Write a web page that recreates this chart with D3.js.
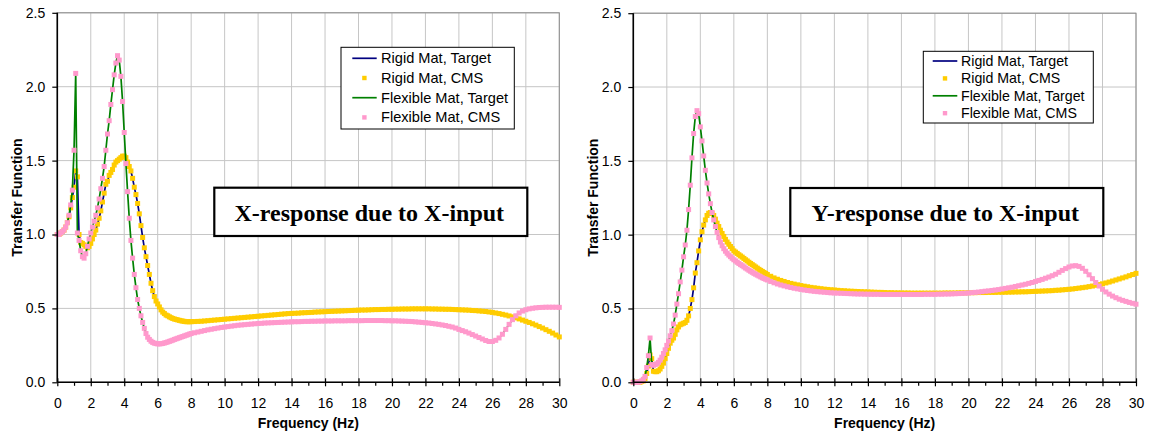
<!DOCTYPE html>
<html><head><meta charset="utf-8">
<script src="https://cdn.jsdelivr.net/npm/d3@7"></script>
<style>body{margin:0;background:#fff}svg{display:block}</style>
</head><body>
<svg id="chart" width="1151" height="435"></svg>
<script>
// ---------- categories (frequency grid, Hz): 0.1 Hz steps to 7.9, then 0.2 Hz steps to 30 ----------
const freqFine = d3.range(0, 80).map(i => i / 10);
const freqCoarse = d3.range(40, 151).map(i => i / 5);
const frequency = freqFine.concat(freqCoarse);
const xTickValues = d3.range(0, 31, 2);
const yTickValues = [0, 0.5, 1.0, 1.5, 2.0, 2.5];
const seriesNames = ["Rigid Mat, Target", "Rigid Mat, CMS", "Flexible Mat, Target", "Flexible Mat, CMS"];
const panelTitles = ["X-response due to X-input", "Y-response due to X-input"];

// ---------- X-response due to X-input ----------
const xRigidTarget = [
  1.00,1.00,1.01,1.02,1.03,1.05,1.08,1.12,1.18,1.25,
  1.32,1.43,1.39,1.00,0.945,0.94,0.93,0.92,0.91,0.92,
  0.94,0.97,1.00,1.03,1.07,1.11,1.16,1.22,1.28,1.34,
  1.36,1.40,1.42,1.44,1.47,1.49,1.50,1.51,1.52,1.53,
  1.53,1.52,1.49,1.46,1.43,1.38,1.32,1.27,1.21,1.14,
  1.06,0.98,0.91,0.85,0.79,0.73,0.67,0.62,0.58,0.55,
  0.53,0.51,0.49,0.475,0.465,0.455,0.45,0.443,0.437,0.432,
  0.428,0.425,0.422,0.419,0.416,0.414,0.412,0.41,0.41,0.41,
  0.410,0.411,0.412,0.413,0.415,0.417,0.419,0.421,0.423,0.425,
  0.427,0.429,0.431,0.433,0.435,0.437,0.439,0.441,0.443,0.445,
  0.447,0.449,0.451,0.453,0.455,0.457,0.459,0.461,0.463,0.465,
  0.466,0.467,0.468,0.470,0.471,0.472,0.473,0.475,0.476,0.477,
  0.478,0.479,0.480,0.481,0.482,0.483,0.484,0.485,0.486,0.487,
  0.488,0.489,0.489,0.490,0.491,0.492,0.492,0.493,0.493,0.494,
  0.494,0.495,0.495,0.496,0.496,0.496,0.497,0.497,0.497,0.497,
  0.497,0.497,0.496,0.496,0.495,0.495,0.494,0.494,0.493,0.492,
  0.491,0.490,0.489,0.488,0.486,0.485,0.483,0.481,0.479,0.476,
  0.473,0.469,0.465,0.460,0.455,0.449,0.443,0.436,0.429,0.421,
  0.413,0.405,0.396,0.387,0.377,0.367,0.356,0.345,0.333,0.320,
  0.307
];
const xRigidCMS = xRigidTarget; // CMS points sit on the target curve in the picture
const xFlexTarget = [
  1.00,1.00,1.01,1.02,1.03,1.05,1.08,1.13,1.20,1.30,
  1.57,2.09,1.01,0.96,0.89,0.85,0.84,0.87,0.92,0.97,
  1.01,1.05,1.09,1.13,1.18,1.24,1.31,1.38,1.46,1.57,
  1.68,1.77,1.88,1.98,2.08,2.16,2.21,2.18,2.07,1.90,
  1.69,1.48,1.29,1.11,0.96,0.84,0.73,0.64,0.56,0.50,
  0.45,0.405,0.365,0.33,0.305,0.29,0.278,0.27,0.265,0.262,
  0.26,0.26,0.261,0.263,0.266,0.269,0.273,0.277,0.281,0.285,
  0.29,0.294,0.298,0.302,0.306,0.31,0.314,0.318,0.322,0.326,
  0.33,0.335,0.34,0.345,0.35,0.355,0.359,0.363,0.367,0.371,
  0.374,0.377,0.38,0.383,0.386,0.388,0.39,0.392,0.394,0.396,
  0.398,0.399,0.401,0.402,0.403,0.404,0.405,0.406,0.407,0.408,
  0.409,0.41,0.41,0.411,0.412,0.412,0.413,0.413,0.414,0.414,
  0.415,0.415,0.415,0.416,0.416,0.416,0.416,0.417,0.417,0.417,
  0.417,0.417,0.418,0.418,0.418,0.418,0.418,0.418,0.417,0.417,
  0.416,0.416,0.415,0.414,0.413,0.412,0.411,0.409,0.407,0.405,
  0.403,0.401,0.398,0.395,0.392,0.388,0.384,0.379,0.374,0.367,
  0.358,0.350,0.342,0.333,0.323,0.313,0.303,0.293,0.283,0.276,
  0.276,0.284,0.300,0.325,0.358,0.392,0.424,0.450,0.469,0.482,
  0.491,0.497,0.501,0.504,0.506,0.507,0.508,0.508,0.508,0.508,
  0.507
];
const xFlexCMS = xFlexTarget;

// ---------- Y-response due to X-input ----------
const yRigidTarget = [
  0.00,0.00,0.00,0.00,0.00,0.005,0.01,0.025,0.06,0.11,
  0.185,0.16,0.075,0.072,0.072,0.078,0.09,0.108,0.13,0.16,
  0.195,0.23,0.265,0.285,0.30,0.325,0.355,0.375,0.39,0.395,
  0.40,0.405,0.42,0.45,0.50,0.56,0.64,0.74,0.81,0.89,
  0.965,1.02,1.065,1.10,1.13,1.145,1.15,1.145,1.13,1.105,
  1.078,1.055,1.03,1.008,0.988,0.968,0.95,0.935,0.92,0.905,
  0.89,0.882,0.873,0.864,0.856,0.848,0.839,0.83,0.822,0.813,
  0.805,0.797,0.789,0.781,0.773,0.765,0.758,0.751,0.744,0.737,
  0.73,0.718,0.707,0.698,0.69,0.683,0.676,0.67,0.665,0.66,
  0.655,0.651,0.647,0.643,0.64,0.637,0.634,0.631,0.629,0.627,
  0.625,0.623,0.621,0.62,0.618,0.617,0.616,0.615,0.614,0.613,
  0.612,0.611,0.61,0.609,0.609,0.608,0.607,0.607,0.606,0.606,
  0.605,0.605,0.605,0.604,0.604,0.604,0.604,0.604,0.604,0.604,
  0.604,0.604,0.604,0.605,0.605,0.605,0.605,0.606,0.606,0.606,
  0.607,0.607,0.607,0.608,0.608,0.608,0.609,0.609,0.609,0.61,
  0.61,0.61,0.611,0.611,0.612,0.612,0.613,0.613,0.614,0.615,
  0.616,0.617,0.618,0.619,0.62,0.621,0.623,0.624,0.626,0.628,
  0.63,0.632,0.635,0.638,0.641,0.644,0.648,0.652,0.657,0.662,
  0.667,0.673,0.679,0.686,0.693,0.70,0.707,0.714,0.722,0.73,
  0.738
];
const yRigidCMS = yRigidTarget;
const yFlexTarget = [
  0.00,0.00,0.00,0.00,0.005,0.01,0.02,0.04,0.10,0.18,
  0.30,0.12,0.115,0.12,0.125,0.135,0.15,0.17,0.195,0.22,
  0.25,0.28,0.315,0.35,0.395,0.455,0.53,0.60,0.68,0.76,
  0.85,0.93,1.03,1.17,1.335,1.52,1.685,1.80,1.84,1.82,
  1.73,1.635,1.533,1.436,1.35,1.276,1.21,1.15,1.10,1.055,
  1.015,0.98,0.95,0.925,0.905,0.888,0.874,0.862,0.851,0.84,
  0.83,0.822,0.813,0.805,0.797,0.79,0.782,0.774,0.767,0.759,
  0.752,0.745,0.738,0.732,0.726,0.72,0.714,0.708,0.703,0.698,
  0.693,0.683,0.674,0.666,0.659,0.653,0.647,0.642,0.637,0.633,
  0.629,0.625,0.622,0.619,0.616,0.614,0.612,0.61,0.608,0.606,
  0.605,0.604,0.603,0.602,0.601,0.6,0.599,0.598,0.598,0.597,
  0.597,0.596,0.596,0.596,0.595,0.595,0.595,0.595,0.595,0.595,
  0.595,0.595,0.595,0.595,0.595,0.595,0.595,0.596,0.596,0.596,
  0.596,0.597,0.597,0.598,0.598,0.599,0.6,0.601,0.602,0.603,
  0.605,0.607,0.609,0.611,0.614,0.617,0.619,0.622,0.625,0.628,
  0.632,0.636,0.64,0.644,0.649,0.654,0.659,0.664,0.67,0.676,
  0.683,0.69,0.697,0.705,0.713,0.722,0.732,0.745,0.758,0.77,
  0.781,0.788,0.79,0.785,0.772,0.752,0.728,0.702,0.676,0.652,
  0.63,0.612,0.597,0.584,0.573,0.563,0.555,0.548,0.541,0.535,
  0.529
];
const yFlexCMS = yFlexTarget;

// ---------- layout / styling ----------
const colors = { rigidLine: "#000080", rigidMark: "#FFCC00", flexLine: "#008000", flexMark: "#FF99CC" };
const sansFont = "'Liberation Sans', Arial, sans-serif";
const serifFont = "'Liberation Serif', 'Times New Roman', serif";

const panels = [
  { left: 57.3, right: 559.3, top: 12.8, bottom: 382.3, yTitleX: 17,
    series: [xRigidTarget, xRigidCMS, xFlexTarget, xFlexCMS], title: panelTitles[0],
    legend: { x: 341, y: 47.3, w: 173.3, h: 81.7, row0: 58.3, dy: 19.7, l1: 352.3, l2: 376.7, mx: 364.4, tx: 381, fs: 14.6 },
    note: { x: 214.3, y: 187.7, w: 313, h: 48.3 } },
  { left: 633.3, right: 1136, top: 13.2, bottom: 382.3, yTitleX: 593,
    series: [yRigidTarget, yRigidCMS, yFlexTarget, yFlexCMS], title: panelTitles[1],
    legend: { x: 923.3, y: 51.3, w: 170, h: 71.7, row0: 61, dy: 17.4, l1: 932.7, l2: 957.3, mx: 945, tx: 961, fs: 14.2 },
    note: { x: 790.3, y: 188, w: 313, h: 48 } }
];

const svg = d3.select("#chart");
const markSize = 5;

panels.forEach(p => {
  const g = svg.append("g");
  const x = d3.scaleLinear().domain([0, 30]).range([p.left, p.right]);
  const y = d3.scaleLinear().domain([0, 2.5]).range([p.bottom, p.top]);

  // gridlines
  g.append("g").selectAll("line.v").data(xTickValues.filter(d => d > 0)).join("line")
    .attr("x1", d => x(d)).attr("x2", d => x(d)).attr("y1", p.top).attr("y2", p.bottom)
    .attr("stroke", "#c6c6c6").attr("stroke-width", 1);
  g.append("g").selectAll("line.h").data(yTickValues.filter(d => d > 0)).join("line")
    .attr("x1", p.left).attr("x2", p.right).attr("y1", d => y(d)).attr("y2", d => y(d))
    .attr("stroke", "#c6c6c6").attr("stroke-width", 1);
  // plot border (top/right gray)
  g.append("rect").attr("x", p.left).attr("y", p.top).attr("width", p.right - p.left).attr("height", p.bottom - p.top)
    .attr("fill", "none").attr("stroke", "#8c8c8c").attr("stroke-width", 1);

  // series
  const pts = s => frequency.map((f, i) => [f, s[i]]);
  const line = d3.line().x(d => x(d[0])).y(d => y(d[1]));
  const drawLine = (s, c) => g.append("path").datum(pts(s)).attr("d", line)
    .attr("fill", "none").attr("stroke", c).attr("stroke-width", 1.7).attr("stroke-linejoin", "round");
  const drawMarks = (s, c) => g.append("g").selectAll("rect").data(pts(s)).join("rect")
    .attr("x", d => x(d[0]) - markSize / 2).attr("y", d => y(d[1]) - markSize / 2)
    .attr("width", markSize).attr("height", markSize).attr("fill", c);
  drawLine(p.series[0], colors.rigidLine);
  drawMarks(p.series[1], colors.rigidMark);
  drawLine(p.series[2], colors.flexLine);
  drawMarks(p.series[3], colors.flexMark);

  // axes
  const yAxis = d3.axisLeft(y).tickValues(yTickValues).tickFormat(d3.format(".1f")).tickSize(5).tickPadding(7);
  const ya = g.append("g").attr("transform", `translate(${p.left},0)`).call(yAxis);
  const xAxis = d3.axisBottom(x).tickValues(xTickValues).tickFormat(d3.format("d")).tickSize(4).tickPadding(12);
  const xa = g.append("g").attr("transform", `translate(0,${p.bottom})`).call(xAxis);
  xa.selectAll(".tick line").attr("y1", -4);
  const xMinor = d3.axisBottom(x).tickValues(d3.range(1, 30, 2)).tickFormat("").tickSize(3.5);
  const xm = g.append("g").attr("transform", `translate(0,${p.bottom})`).call(xMinor);
  xm.select(".domain").remove();
  [ya, xa, xm].forEach(a => {
    a.selectAll("line").attr("stroke", "#000").attr("stroke-width", 1.2);
    a.select(".domain").attr("stroke", "#000").attr("stroke-width", 1.6);
    a.selectAll("text").attr("font-family", sansFont).attr("font-size", 14).attr("fill", "#000");
  });
  ya.select(".domain").attr("d", `M0,${p.top}V${p.bottom}`);
  xa.select(".domain").attr("d", `M${p.left},0H${p.right}`);

  // axis titles
  g.append("text").attr("transform", `translate(${p.yTitleX},${(p.top + p.bottom) / 2}) rotate(-90)`)
    .attr("text-anchor", "middle").attr("dominant-baseline", "central")
    .attr("font-family", sansFont).attr("font-weight", "bold").attr("font-size", 14).text("Transfer Function");
  g.append("text").attr("x", (p.left + p.right) / 2).attr("y", 422.7)
    .attr("text-anchor", "middle").attr("dominant-baseline", "central")
    .attr("font-family", sansFont).attr("font-weight", "bold").attr("font-size", 14).text("Frequency (Hz)");

  // legend
  const L = p.legend;
  const lg = g.append("g");
  lg.append("rect").attr("x", L.x).attr("y", L.y).attr("width", L.w).attr("height", L.h)
    .attr("fill", "#fff").attr("stroke", "#000").attr("stroke-width", 1);
  seriesNames.forEach((name, i) => {
    const cy = L.row0 + i * L.dy;
    if (i % 2 === 0) {
      lg.append("line").attr("x1", L.l1).attr("x2", L.l2).attr("y1", cy).attr("y2", cy)
        .attr("stroke", i === 0 ? colors.rigidLine : colors.flexLine).attr("stroke-width", 1.7);
    } else {
      lg.append("rect").attr("x", L.mx - 2.2).attr("y", cy - 2.2)
        .attr("width", 4.4).attr("height", 4.4)
        .attr("fill", i === 1 ? colors.rigidMark : colors.flexMark);
    }
    lg.append("text").attr("x", L.tx).attr("y", cy).attr("dominant-baseline", "central")
      .attr("font-family", sansFont).attr("font-size", L.fs).attr("fill", "#000").text(name);
  });

  // annotation box
  const N = p.note;
  g.append("rect").attr("x", N.x).attr("y", N.y).attr("width", N.w).attr("height", N.h)
    .attr("fill", "#fff").attr("stroke", "#000").attr("stroke-width", 2.2);
  g.append("text").attr("x", N.x + N.w / 2 - 1.5).attr("y", N.y + N.h / 2 + 1)
    .attr("text-anchor", "middle").attr("dominant-baseline", "central")
    .attr("font-family", serifFont).attr("font-weight", "bold").attr("font-size", 24)
    .text(p.title);
});
</script>
</body></html>
